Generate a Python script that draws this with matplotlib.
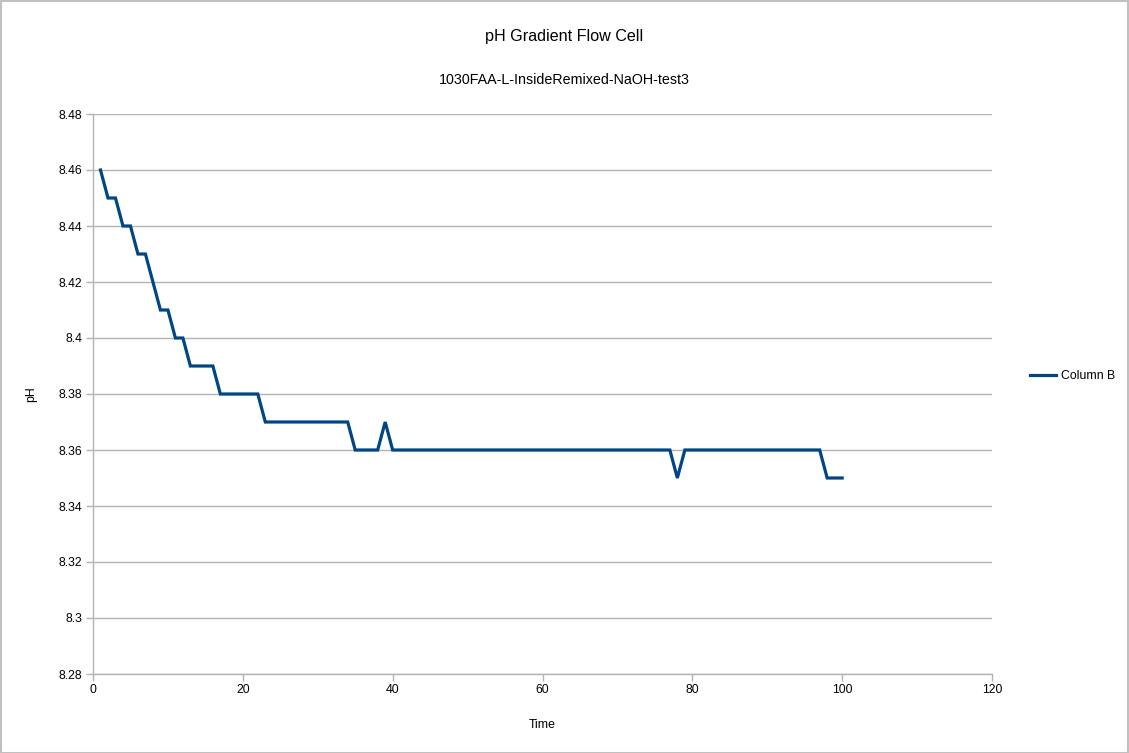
"""
plot.py
Recreates the 'pH Gradient Flow Cell' line chart (LibreOffice style).
"""

import matplotlib
matplotlib.use("Agg")
import matplotlib.pyplot as plt
from matplotlib.patches import Rectangle

plt.rcParams["font.family"] = ["Liberation Sans", "DejaVu Sans"]

# data
time = list(range(1, 101))
ph = ([8.46, 8.45, 8.45, 8.44, 8.44, 8.43, 8.43, 8.42, 8.41, 8.41,
       8.40, 8.40, 8.39, 8.39, 8.39, 8.39]
      + [8.38] * 6          # 17-22
      + [8.37] * 12         # 23-34
      + [8.36] * 4          # 35-38
      + [8.37]              # 39
      + [8.36] * 38         # 40-77
      + [8.35]              # 78
      + [8.36] * 19         # 79-97
      + [8.35] * 3)         # 98-100

x_ticks = [0, 20, 40, 60, 80, 100, 120]
y_ticks = [8.28, 8.3, 8.32, 8.34, 8.36, 8.38, 8.4, 8.42, 8.44, 8.46, 8.48]
y_tick_labels = ["8.28", "8.3", "8.32", "8.34", "8.36", "8.38", "8.4",
                 "8.42", "8.44", "8.46", "8.48"]

W, H = 1129, 753
fig = plt.figure(figsize=(W / 100, H / 100), dpi=100)
ax = fig.add_axes([93 / W, 1 - 674 / H, (992 - 93) / W, (674 - 114) / H])

ax.plot(time, ph, color="#004586", linewidth=2.3, label="Column B",
        solid_joinstyle="miter")

ax.set_xlim(0, 120)
ax.set_ylim(8.28, 8.48)
ax.set_xticks(x_ticks)
ax.set_yticks(y_ticks)
ax.set_yticklabels(y_tick_labels)
ax.grid(axis="y", color="#b3b3b3", linewidth=1)
ax.set_axisbelow(True)
for side in ["top", "right"]:
    ax.spines[side].set_visible(False)
for side in ["left", "bottom"]:
    ax.spines[side].set_color("#b3b3b3")
    ax.spines[side].set_linewidth(1)
ax.tick_params(colors="#b3b3b3", labelcolor="black", labelsize=8.8,
               length=5, width=1, pad=2.5)

ax.set_xlabel("Time", fontsize=8.8, labelpad=16)
ax.set_ylabel("pH", fontsize=8.8, labelpad=16)

fig.text(0.5, 1 - 37 / H, "pH Gradient Flow Cell", ha="center", va="center",
         fontsize=11.6)
fig.text(0.5, 1 - 80 / H, "1030FAA-L-InsideRemixed-NaOH-test3", ha="center",
         va="center", fontsize=10.3)

fig.legend(loc="center left", bbox_to_anchor=(1019 / W, 1 - 376 / H),
           frameon=False, fontsize=8.8, handlelength=2.1, handletextpad=0.4)

# outer frame of the chart object
fig.patches.append(Rectangle((0.5 / W, 0.5 / H), 1 - 1.5 / W, 1 - 1.5 / H,
                             transform=fig.transFigure, fill=False,
                             edgecolor="#c0c0c0", linewidth=1.5))

fig.savefig("out.png", dpi=100)
